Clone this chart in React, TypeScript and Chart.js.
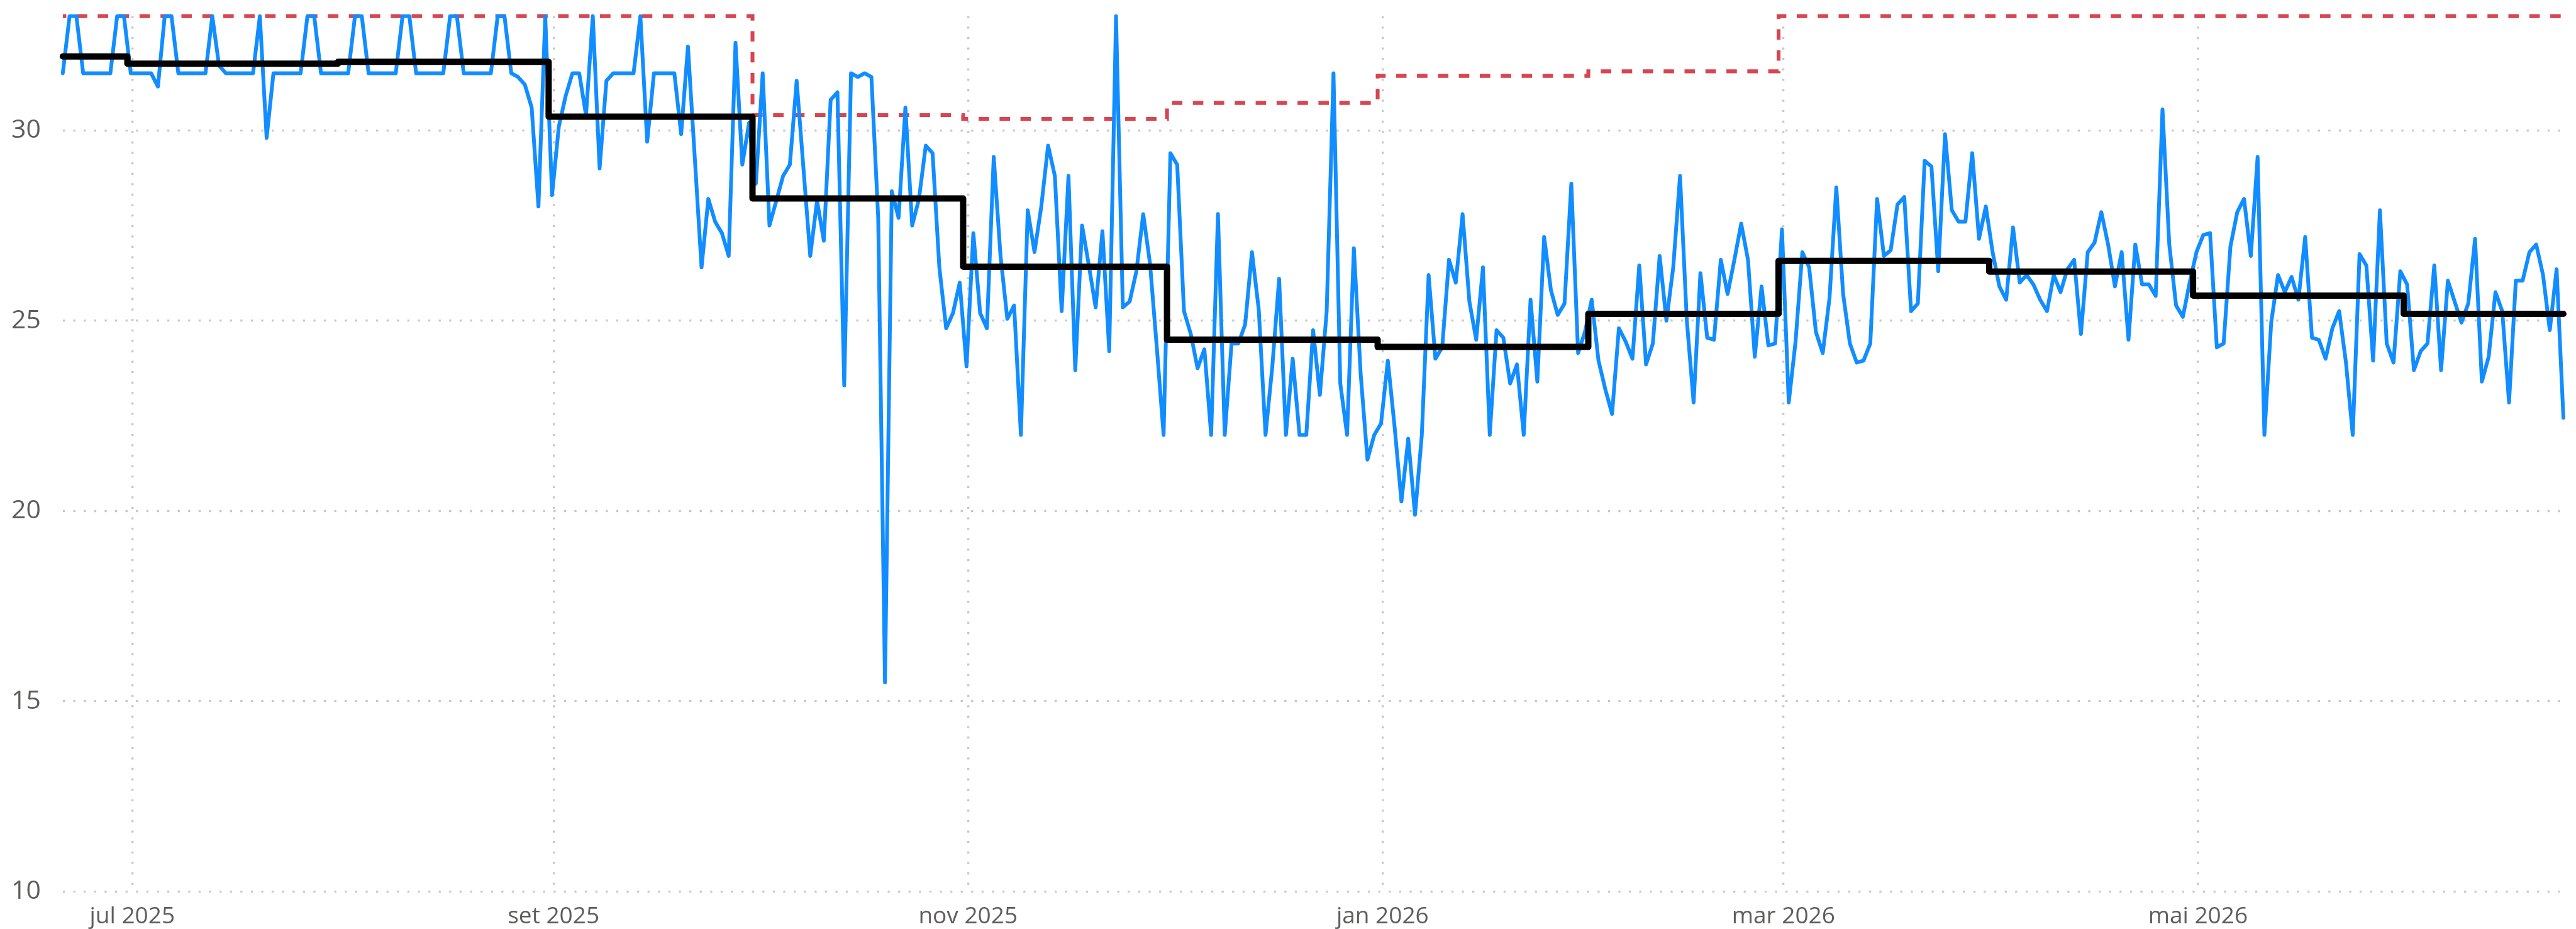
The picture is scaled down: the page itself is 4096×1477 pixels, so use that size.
import React, { useEffect, useRef } from 'react';
import { Chart, registerables } from 'chart.js';

Chart.register(...registerables);

// ---- data ----
const START_DATE = '2025-06-21';

// daily values, one per day from START_DATE (369 days)
const dailyValues = [
  31.5, 33, 33, 31.5, 31.5, 31.5, 31.5, 31.5, 33, 33, 31.5, 31.5, 31.5, 31.5, 31.15, 33, 33, 31.5, 31.5, 31.5,
  31.5, 31.5, 33, 31.7, 31.5, 31.5, 31.5, 31.5, 31.5, 33, 29.8, 31.5, 31.5, 31.5, 31.5, 31.5, 33, 33, 31.5, 31.5,
  31.5, 31.5, 31.5, 33, 33, 31.5, 31.5, 31.5, 31.5, 31.5, 33, 33, 31.5, 31.5, 31.5, 31.5, 31.5, 33, 33, 31.5,
  31.5, 31.5, 31.5, 31.5, 33, 33, 31.5, 31.4, 31.2, 30.6, 28.0, 33, 28.3, 30.1, 30.9, 31.5, 31.5, 30.4, 33, 29.0,
  31.3, 31.5, 31.5, 31.5, 31.5, 33, 29.7, 31.5, 31.5, 31.5, 31.5, 29.9, 32.2, 29.3, 26.4, 28.2, 27.6, 27.3, 26.7, 32.3,
  29.1, 30.2, 28.6, 31.5, 27.5, 28.15, 28.8, 29.1, 31.3, 29.0, 26.7, 28.15, 27.1, 30.8, 31.0, 23.3, 31.5, 31.4, 31.5, 31.4,
  27.7, 15.5, 28.4, 27.7, 30.6, 27.5, 28.2, 29.6, 29.4, 26.4, 24.8, 25.2, 26.0, 23.8, 27.3, 25.2, 24.8, 29.3, 26.7, 25.05,
  25.4, 22.0, 27.9, 26.8, 28.0, 29.6, 28.8, 25.25, 28.8, 23.7, 27.5, 26.45, 25.35, 27.35, 24.2, 33, 25.35, 25.5, 26.3, 27.8,
  26.5, 24.3, 22.0, 29.4, 29.1, 25.25, 24.65, 23.75, 24.25, 22.0, 27.8, 22.0, 24.4, 24.4, 24.9, 26.8, 25.3, 22.0, 23.8, 26.1,
  22.0, 24.0, 22.0, 22.0, 24.75, 23.05, 25.25, 31.5, 23.35, 22.0, 26.9, 23.6, 21.35, 22.0, 22.3, 23.95, 22.2, 20.25, 21.9, 19.9,
  22.0, 26.2, 24.0, 24.3, 26.6, 26.0, 27.8, 25.5, 24.5, 26.4, 22.0, 24.75, 24.55, 23.35, 23.85, 22.0, 25.55, 23.4, 27.2, 25.8,
  25.15, 25.45, 28.6, 24.15, 24.7, 25.55, 23.95, 23.2, 22.55, 24.8, 24.45, 24.0, 26.45, 23.85, 24.4, 26.7, 25.0, 26.4, 28.8, 25.0,
  22.85, 26.25, 24.55, 24.5, 26.6, 25.7, 26.6, 27.55, 26.6, 24.05, 25.9, 24.35, 24.4, 27.4, 22.85, 24.45, 26.8, 26.4, 24.7, 24.15,
  25.6, 28.5, 25.7, 24.4, 23.9, 23.95, 24.4, 28.2, 26.7, 26.85, 28.05, 28.25, 25.25, 25.45, 29.2, 29.05, 26.3, 29.9, 27.9, 27.6,
  27.6, 29.4, 27.15, 28.0, 26.8, 25.9, 25.55, 27.45, 26.0, 26.2, 25.95, 25.55, 25.25, 26.2, 25.75, 26.35, 26.6, 24.65, 26.8, 27.05,
  27.85, 27.0, 25.9, 26.8, 24.5, 27.0, 25.95, 25.95, 25.65, 30.55, 27.0, 25.4, 25.1, 26.0, 26.8, 27.25, 27.3, 24.3, 24.4, 26.95,
  27.85, 28.2, 26.7, 29.3, 22.0, 24.95, 26.2, 25.75, 26.15, 25.55, 27.2, 24.55, 24.5, 24.0, 24.8, 25.25, 23.9, 22.0, 26.75, 26.45,
  23.95, 27.9, 24.4, 23.9, 26.3, 25.95, 23.7, 24.2, 24.4, 26.45, 23.7, 26.05, 25.5, 24.95, 25.45, 27.15, 23.4, 24.05, 25.75, 25.25,
  22.85, 26.05, 26.05, 26.8, 27.0, 26.2, 24.75, 26.35, 22.45,
];

// monthly step series
const monthKeys = [
  '2025-06', '2025-07', '2025-08', '2025-09', '2025-10', '2025-11', '2025-12',
  '2026-01', '2026-02', '2026-03', '2026-04', '2026-05', '2026-06',
];
const monthlyAverage = [31.94, 31.75, 31.8, 30.36, 28.21, 26.42, 24.5, 24.31, 25.18, 26.57, 26.29, 25.66, 25.18];
const monthlyLimit = [33, 33, 33, 33, 30.4, 30.3, 30.72, 31.43, 31.55, 33, 33, 33, 33];

// axis ticks
const tickMonths = ['2025-07', '2025-09', '2025-11', '2026-01', '2026-03', '2026-05'];
const tickLabels = ['jul 2025', 'set 2025', 'nov 2025', 'jan 2026', 'mar 2026', 'mai 2026'];
const yTicks = [10, 15, 20, 25, 30];
const Y_MIN = 10;
const Y_MAX = 33;

// ---- helpers ----
const DAY = 86400000;
const startMs = Date.parse(START_DATE + 'T00:00:00Z');
const dayOf = (iso: string) => (Date.parse(iso + 'T00:00:00Z') - startMs) / DAY;
const monthOfDay = (d: number) => new Date(startMs + d * DAY).toISOString().slice(0, 7);
const GRID_SHIFT = 0.22;

const S = 0.832;
const FONT = '"Open Sans", "Noto Sans", sans-serif';
const TEXT = '#605E5C';
const GRID = '#C8C6C4';

export default function App() {
  const ref = useRef<HTMLCanvasElement | null>(null);

  useEffect(() => {
    if (!ref.current) return;
    const lastDay = dailyValues.length - 1;
    const blue = dailyValues.map((v, d) => ({ x: d, y: v }));
    const avg = dailyValues.map((_, d) => ({ x: d, y: monthlyAverage[monthKeys.indexOf(monthOfDay(d))] }));
    const lim = dailyValues.map((_, d) => ({ x: d, y: monthlyLimit[monthKeys.indexOf(monthOfDay(d))] }));
    const tickPos = tickMonths.map((m) => dayOf(m + '-01') + GRID_SHIFT);

    const chart = new Chart(ref.current, {
      type: 'line',
      data: {
        datasets: [
          {
            data: avg,
            stepped: 'middle',
            borderColor: '#000000',
            borderWidth: 12 * S,
            pointRadius: 0,
            borderJoinStyle: 'round',
            borderCapStyle: 'round',
            clip: false,
            order: 1,
          },
          {
            data: blue,
            borderColor: '#118DFF',
            borderWidth: 7.2 * S,
            pointRadius: 0,
            tension: 0,
            borderJoinStyle: 'round',
            borderCapStyle: 'round',
            clip: false,
            order: 2,
          },
          {
            data: lim,
            stepped: 'middle',
            borderColor: '#D64550',
            borderWidth: 7.3 * S,
            borderDash: [20 * S, 20 * S],
            borderDashOffset: 13.3 * S,
            pointRadius: 0,
            clip: false,
            order: 3,
          },
        ],
      },
      options: {
        animation: false,
        responsive: true,
        maintainAspectRatio: false,
        layout: { padding: { top: 30.8 * S, right: 4096 - 4899 * S, left: 0, bottom: 0 } },
        plugins: { legend: { display: false }, tooltip: { enabled: false } },
        scales: {
          x: {
            type: 'linear',
            min: 0,
            max: lastDay,
            afterBuildTicks: (s: any) => {
              s.ticks = tickPos.map((v) => ({ value: v }));
            },
            afterFit: (s: any) => {
              s.height = 1477 - 1704 * S;
              s.paddingLeft = 0;
              s.paddingRight = 0;
            },
            ticks: {
              autoSkip: false,
              maxRotation: 0,
              minRotation: 0,
              padding: 18,
              color: TEXT,
              font: { family: FONT, size: 37 },
              callback: (_v: any, i: number) => tickLabels[i],
            },
            grid: { color: GRID, lineWidth: 3.3, drawTicks: false },
            border: { display: false, dash: [3.3, 13.3] },
          },
          y: {
            min: Y_MIN,
            max: Y_MAX,
            afterBuildTicks: (s: any) => {
              s.ticks = yTicks.map((v) => ({ value: v }));
            },
            afterFit: (s: any) => {
              s.width = 120 * S;
              s.paddingTop = 0;
              s.paddingBottom = 0;
            },
            ticks: {
              padding: 35,
              color: TEXT,
              font: { family: FONT, size: 41 },
              callback: (v: any) => String(v),
            },
            grid: { color: GRID, lineWidth: 3.3, drawTicks: false },
            border: { display: false, dash: [3.3, 13.3] },
          },
        },
      },
    } as any);
    return () => chart.destroy();
  }, []);

  return (
    <div style={{ position: 'fixed', left: 0, top: 0, width: '100vw', height: '100vh', background: '#fff' }}>
      <canvas ref={ref} style={{ display: 'block' }} />
    </div>
  );
}
